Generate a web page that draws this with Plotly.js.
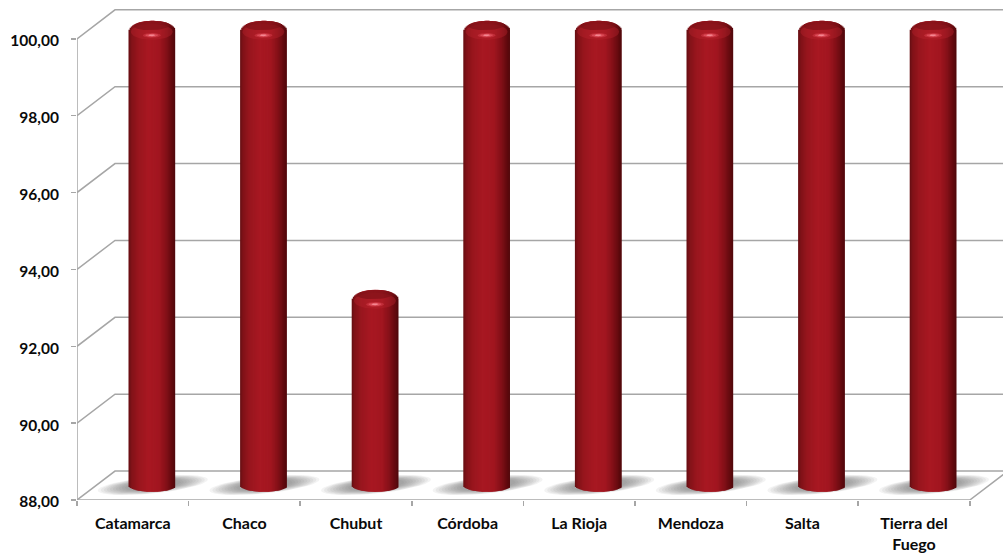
<!DOCTYPE html>
<html><head><meta charset="utf-8">
<script src="https://cdn.plot.ly/plotly-3.0.1.min.js"></script>
<style>html,body{margin:0;padding:0;background:#fff}#c{width:1003px;height:554px}</style>
</head><body><div id="c"></div>
<script>
const categories = ['Catamarca','Chaco','Chubut','Córdoba','La Rioja','Mendoza','Salta','Tierra del<br>Fuego'];
const values = [100,100,93,100,100,100,100,100];
const yTicks = [88,90,92,94,96,98,100];

const PX = 111.6, PY = 38.47;
const W = 1003, H = 554, L = 77, T = 5, B = 53.5;
const plotH = H - T - B, plotW = W - L;
const xR = [-0.5, -0.5 + plotW / PX], yR = [88, 88 + plotH / PY];
const depthX = 38 / PX, depthY = 29 / PY;
const barShiftX = 19 / PX, barShiftY = 14.5 / PY;
const GRID = '#a6a6a6';
const dx = p => p / PX, dy = p => p / PY;

const traces = [];
{
  const gx = [], gy = [];
  yTicks.forEach(v => {
    gx.push(-0.5, -0.5 + depthX, xR[1] + 0.5, null);
    gy.push(v, v + depthY, v + depthY, null);
  });
  gx.push(-0.5, -0.5, null); gy.push(88, 100, null);
  gx.push(-0.5, 7.5, 7.5 + depthX, null); gy.push(88, 88, 88 + depthY, null);
  traces.push({type:'scatter',mode:'lines',x:gx,y:gy,xaxis:'x',yaxis:'y',cliponaxis:false,
    line:{color:GRID,width:1.5},hoverinfo:'skip'});
}
function ellipse(cx, cy, rx, ry, shear, ox, oy) {
  const xs = [], ys = [];
  for (let a = 0; a <= 40; a++) {
    const t = a / 40 * 2 * Math.PI, px = rx * Math.cos(t), py = ry * Math.sin(t) + (shear || 0) * px;
    xs.push(cx + dx(px + (ox || 0))); ys.push(cy + dy(py + (oy || 0)));
  }
  xs.push(null); ys.push(null);
  return [xs, ys];
}
function layer(build, color, ax) {
  const xs = [], ys = [];
  values.forEach((v, i) => { const e = build(v, i); xs.push(...e[0]); ys.push(...e[1]); });
  traces.push({type:'scatter',mode:'lines',x:xs,y:ys,fill:'toself',fillcolor:color,
    line:{width:0,color:'rgba(0,0,0,0)'},xaxis:ax[0],yaxis:ax[1],hoverinfo:'skip'});
}
[[55,8.5],[52,8.2],[49,7.8],[46,7.4],[43,7],[40,6.6],[37,6.2],[34,5.8],[31,5.4],[28,5]].forEach(s => {
  layer((v, i) => ellipse(i + barShiftX, 88 + barShiftY, s[0], s[1], 0.1, 1, 0.5), 'rgba(80,80,80,0.07)', ['x','y']);
});
const stops = [[-1,[100,14,18]],[-0.88,[128,18,24]],[-0.6,[152,22,30]],[-0.15,[168,24,34]],[0.3,[162,22,32]],[0.62,[132,16,24]],[0.88,[96,10,14]],[1,[80,8,12]]];
function shade(u) {
  for (let k = 1; k < stops.length; k++) if (u <= stops[k][0]) {
    const a = stops[k-1], b = stops[k], f = (u - a[0]) / (b[0] - a[0]);
    return 'rgb(' + a[1].map((c, j) => Math.round(c + (b[1][j] - c) * f)).join(',') + ')';
  }
  return 'rgb(80,8,12)';
}
const N = 40, stripPx = 46.6 / N;
for (let s = 0; s < N; s++) {
  const u = (s + 0.5) / N * 2 - 1;
  const dome = 12 * Math.pow(1 - Math.pow(Math.abs(u), 2.2), 1 / 2.2);
  const rim = 6.3 * Math.sqrt(1 - u * u);
  traces.push({type:'bar',x:values.map((_, i) => i),
    y:values.map(v => v - 8.5 / PY + dome / PY - (88 - rim / PY)),
    base:values.map(() => 88 - rim / PY),
    width:dx(s === N - 1 ? stripPx : stripPx * 2), offset:dx(-23.3 + s * stripPx),
    marker:{color:shade(u),line:{width:0}},xaxis:'x2',yaxis:'y2',hoverinfo:'skip',showlegend:false});
}
const capAx = ['x2','y2'];
layer((v, i) => ellipse(i, v, 21, 8, 0, 0, -7.5), 'rgba(185,36,46,0.4)', capAx);
layer((v, i) => ellipse(i, v, 18, 4.6, 0.03, 0, -1.2), 'rgba(120,16,22,0.6)', capAx);
layer((v, i) => ellipse(i, v, 9, 2.4, 0, 0, -11), 'rgba(235,80,95,0.35)', capAx);
layer((v, i) => ellipse(i, v, 6.5, 1.6, 0, 0, -11), 'rgba(245,105,118,0.5)', capAx);
layer((v, i) => ellipse(i, v, 3.5, 0.9, 0, 0, -11), 'rgba(255,160,170,0.7)', capAx);

const layout = {
  width:W,height:H,margin:{l:L,r:0,t:T,b:B,pad:0},
  paper_bgcolor:'#fff',plot_bgcolor:'rgba(0,0,0,0)',showlegend:false,hovermode:false,
  separators:',.',barmode:'overlay',
  xaxis:{type:'linear',range:xR,tickmode:'array',tickvals:categories.map((_, i) => i),ticktext:categories,
    ticks:'outside',ticklen:9,tickcolor:'rgba(0,0,0,0)',showgrid:false,zeroline:false,showline:false,
    tickfont:{family:'Lato',size:16,color:'#0a0a0a',weight:700},tickangle:0,
    minor:{ticks:'outside',tickmode:'array',tickvals:[-0.5,0.5,1.5,2.5,3.5,4.5,5.5,6.5,7.5],ticklen:5,tickwidth:1.5,tickcolor:GRID,showgrid:false}},
  yaxis:{type:'linear',range:yR,tickmode:'array',tickvals:yTicks,tickformat:'.2f',ticks:'outside',ticklen:5,tickwidth:1.5,tickcolor:GRID,
    ticklabelstandoff:9,ticklabelshift:2,
    showgrid:false,zeroline:false,showline:false,tickfont:{family:'Lato',size:15.5,color:'#0a0a0a',weight:700}},
  xaxis2:{type:'linear',overlaying:'x',range:[xR[0]-barShiftX,xR[1]-barShiftX],visible:false},
  yaxis2:{type:'linear',overlaying:'y',range:[yR[0]-barShiftY,yR[1]-barShiftY],visible:false}
};
Plotly.newPlot('c',traces,layout,{displayModeBar:false,staticPlot:true});
</script></body></html>
